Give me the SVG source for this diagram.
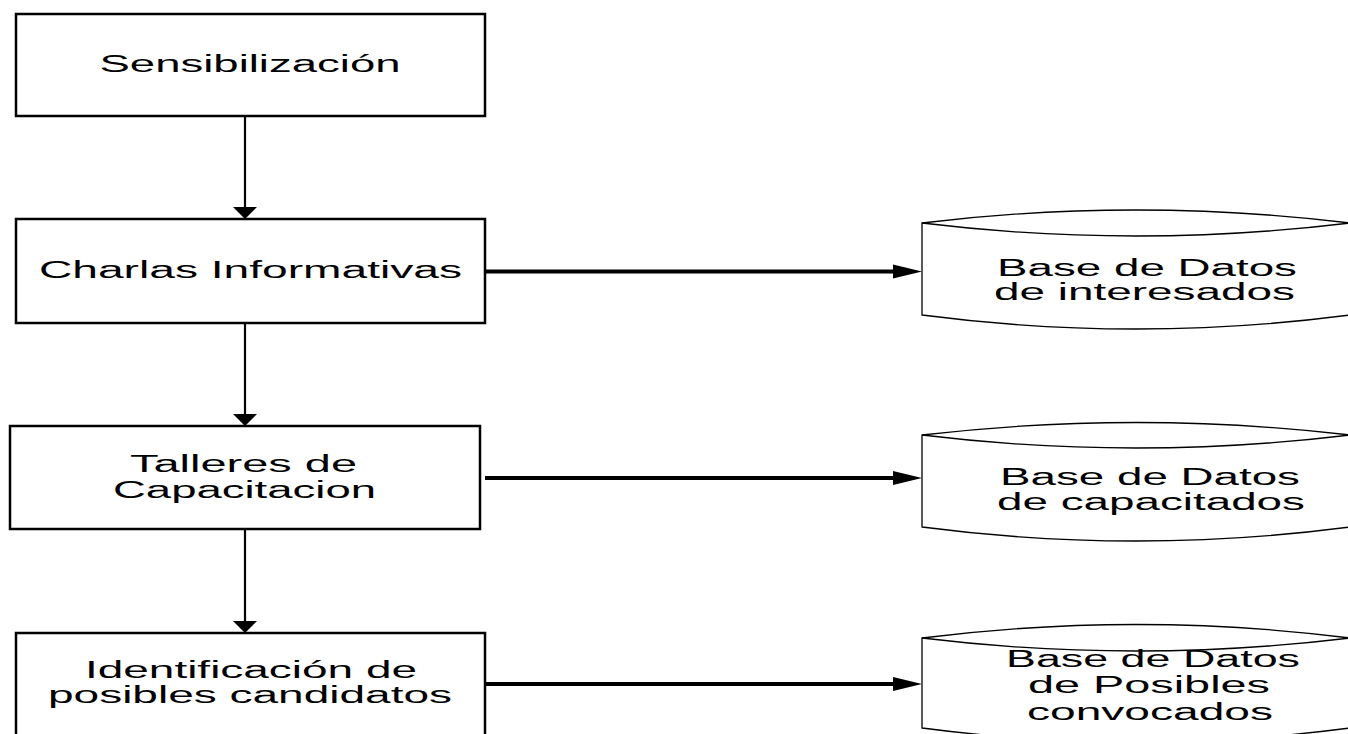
<svg xmlns="http://www.w3.org/2000/svg" width="1348" height="734" viewBox="0 0 1348 734">
<defs>
<style>
.box{fill:#fff;stroke:#000;stroke-width:2.5}
.cyl{fill:#fff;stroke:#000;stroke-width:1.3}
.t{font-family:"Liberation Sans",Arial,sans-serif;font-size:23px;fill:#000}
.v{stroke:#000;stroke-width:2.2;fill:none}
.h{stroke:#000;stroke-width:4;fill:none}
</style>
</defs>
<rect width="1348" height="734" fill="#fff"/>
<g id="connectors">
<path class="v" d="M245,117 V208"/><path d="M233,207 L257,207 L245,219 Z" fill="#000"/>
<path class="v" d="M245,323 V415"/><path d="M233,414 L257,414 L245,426 Z" fill="#000"/>
<path class="v" d="M245,529 V622"/><path d="M233,621 L257,621 L245,633 Z" fill="#000"/>
<path class="h" d="M485,271.5 H895"/><path d="M893,264.5 L922,271.5 L893,278.5 Z" fill="#000"/>
<path class="h" d="M485,478 H895"/><path d="M893,471 L922,478 L893,485 Z" fill="#000"/>
<path class="h" d="M485,684 H895"/><path d="M893,677 L922,684 L893,691 Z" fill="#000"/>
</g>
<g id="n1">
<rect class="box" x="16" y="14" width="469" height="102"/>
<text class="t" x="250" y="72" text-anchor="middle" textLength="301" lengthAdjust="spacingAndGlyphs">Sensibilización</text>
</g>
<g id="n2">
<rect class="box" x="16" y="219" width="469" height="104"/>
<text class="t" x="250.5" y="278" text-anchor="middle" textLength="423" lengthAdjust="spacingAndGlyphs">Charlas Informativas</text>
</g>
<g id="n3">
<rect class="box" x="10" y="426" width="470" height="103"/>
<text class="t" x="243.5" y="472" text-anchor="middle" textLength="227" lengthAdjust="spacingAndGlyphs">Talleres de</text>
<text class="t" x="244.5" y="498" text-anchor="middle" textLength="263" lengthAdjust="spacingAndGlyphs">Capacitacion</text>
</g>
<g id="n4">
<rect class="box" x="16" y="633" width="469" height="120"/>
<text class="t" x="251" y="678" text-anchor="middle" textLength="332" lengthAdjust="spacingAndGlyphs">Identificación de</text>
<text class="t" x="250" y="703" text-anchor="middle" textLength="404" lengthAdjust="spacingAndGlyphs">posibles candidatos</text>
</g>
<g id="db1">
<path class="cyl" d="M922,223 Q1136,197 1350,223 V315 Q1136,343 922,315 Z"/>
<path class="cyl" d="M922,223 Q1136,249 1350,223" fill="none"/>
<text class="t" x="997" y="276" textLength="300" lengthAdjust="spacingAndGlyphs">Base de Datos</text>
<text class="t" x="994" y="300" textLength="301" lengthAdjust="spacingAndGlyphs">de interesados</text>
</g>
<g id="db2">
<path class="cyl" d="M922,435 Q1136,410 1350,435 V527 Q1136,555 922,527 Z"/>
<path class="cyl" d="M922,435 Q1136,461 1350,435" fill="none"/>
<text class="t" x="1000" y="485" textLength="300" lengthAdjust="spacingAndGlyphs">Base de Datos</text>
<text class="t" x="997" y="510" textLength="308" lengthAdjust="spacingAndGlyphs">de capacitados</text>
</g>
<g id="db3">
<path class="cyl" d="M922,638 Q1136,611 1350,638 V728 Q1136,756 922,728 Z"/>
<path class="cyl" d="M922,638 Q1136,664 1350,638" fill="none"/>
<text class="t" x="1006" y="667" textLength="294" lengthAdjust="spacingAndGlyphs">Base de Datos</text>
<text class="t" x="1028" y="693" textLength="242" lengthAdjust="spacingAndGlyphs">de Posibles</text>
<text class="t" x="1027" y="720" textLength="246" lengthAdjust="spacingAndGlyphs">convocados</text>
</g>
</svg>
